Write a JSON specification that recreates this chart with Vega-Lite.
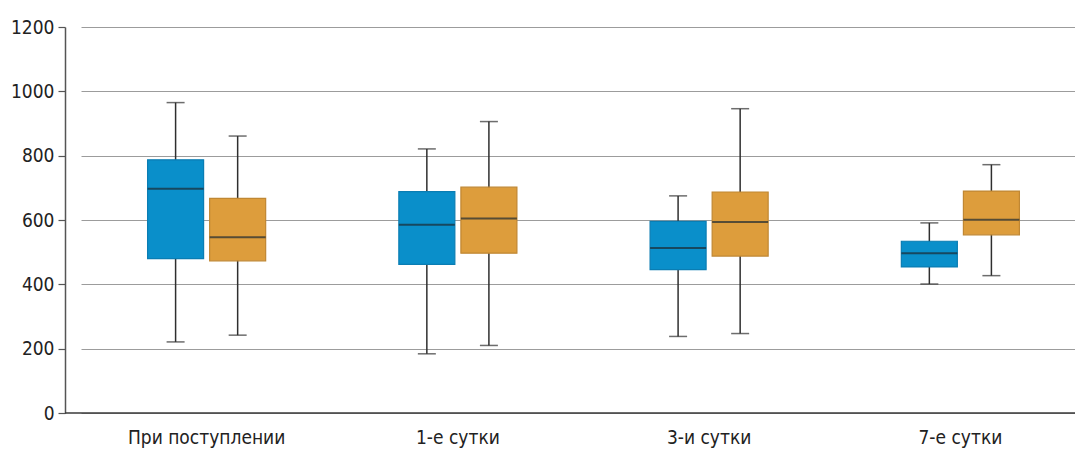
{
  "$schema": "https://vega.github.io/schema/vega-lite/v6.json",
  "autosize": {"type": "none"},
  "width": 1010,
  "height": 386,
  "padding": {"left": 65, "top": 27, "right": 0, "bottom": 39},
  "background": "white",
  "data": {
    "values": [
      {"g": "При поступлении", "s": "1", "min": 221, "q1": 480, "med": 697, "q3": 787, "max": 965},
      {"g": "При поступлении", "s": "2", "min": 242, "q1": 473, "med": 546, "q3": 667, "max": 861},
      {"g": "1-е сутки", "s": "1", "min": 184, "q1": 462, "med": 585, "q3": 688, "max": 821},
      {"g": "1-е сутки", "s": "2", "min": 210, "q1": 497, "med": 605, "q3": 702, "max": 906},
      {"g": "3-и сутки", "s": "1", "min": 238, "q1": 446, "med": 513, "q3": 596, "max": 675},
      {"g": "3-и сутки", "s": "2", "min": 247, "q1": 488, "med": 594, "q3": 687, "max": 946},
      {"g": "7-е сутки", "s": "1", "min": 401, "q1": 454, "med": 497, "q3": 534, "max": 591},
      {"g": "7-е сутки", "s": "2", "min": 427, "q1": 554, "med": 601, "q3": 690, "max": 772}
    ]
  },
  "encoding": {
    "x": {
      "field": "g",
      "type": "nominal",
      "sort": ["При поступлении", "1-е сутки", "3-и сутки", "7-е сутки"],
      "title": null,
      "scale": {"range": [16, 1021], "paddingInner": 0.506, "paddingOuter": 0.253},
      "axis": {
        "labelAngle": 0,
        "ticks": false,
        "labelPadding": 15,
        "domain": false,
        "grid": false
      }
    },
    "xOffset": {
      "field": "s",
      "type": "nominal",
      "scale": {"paddingInner": 0, "paddingOuter": 0}
    }
  },
  "layer": [
    {
      "mark": {"type": "rule", "color": "#2f2f2f", "strokeWidth": 1.5},
      "encoding": {
        "y": {
          "field": "min",
          "type": "quantitative",
          "title": null,
          "scale": {"domain": [0, 1200], "nice": false},
          "axis": {
            "values": [0, 200, 400, 600, 800, 1000, 1200],
            "format": "d",
            "grid": true,
            "gridColor": "#9c9c9c",
            "gridWidth": 1,
            "domainColor": "#555555",
            "domainWidth": 1.5,
            "tickColor": "#555555",
            "tickSize": 7,
            "tickWidth": 1.2,
            "labelPadding": 4
          }
        },
        "y2": {"field": "max"}
      }
    },
    {
      "mark": {"type": "tick", "size": 18, "thickness": 1.5, "color": "#2f2f2f"},
      "encoding": {"y": {"field": "min", "type": "quantitative", "title": null}}
    },
    {
      "mark": {"type": "tick", "size": 18, "thickness": 1.5, "color": "#2f2f2f"},
      "encoding": {"y": {"field": "max", "type": "quantitative", "title": null}}
    },
    {
      "mark": {"type": "bar", "width": 56, "strokeWidth": 1.2, "fillOpacity": 1},
      "encoding": {
        "y": {"field": "q1", "type": "quantitative", "title": null},
        "y2": {"field": "q3"},
        "fill": {
          "field": "s",
          "type": "nominal",
          "scale": {"domain": ["1", "2"], "range": ["#0a8fca", "#dd9d3c"]},
          "legend": null
        },
        "stroke": {
          "field": "s",
          "type": "nominal",
          "scale": {"domain": ["1", "2"], "range": ["#0a7db3", "#c08733"]},
          "legend": null
        }
      }
    },
    {
      "mark": {"type": "tick", "size": 56, "thickness": 2, "color": "#1c2a32"},
      "encoding": {"y": {"field": "med", "type": "quantitative", "title": null}}
    },
    {
      "data": {"values": [{"base": 0}]},
      "mark": {"type": "rule", "color": "#3a3a3a", "strokeWidth": 1.5},
      "encoding": {
        "x": null,
        "xOffset": null,
        "y": {"field": "base", "type": "quantitative", "title": null}
      }
    }
  ],
  "config": {
    "view": {"stroke": null},
    "axis": {
      "labelFont": "DejaVu Sans Condensed, sans-serif",
      "labelFontSize": 19,
      "labelColor": "#222222"
    }
  }
}
